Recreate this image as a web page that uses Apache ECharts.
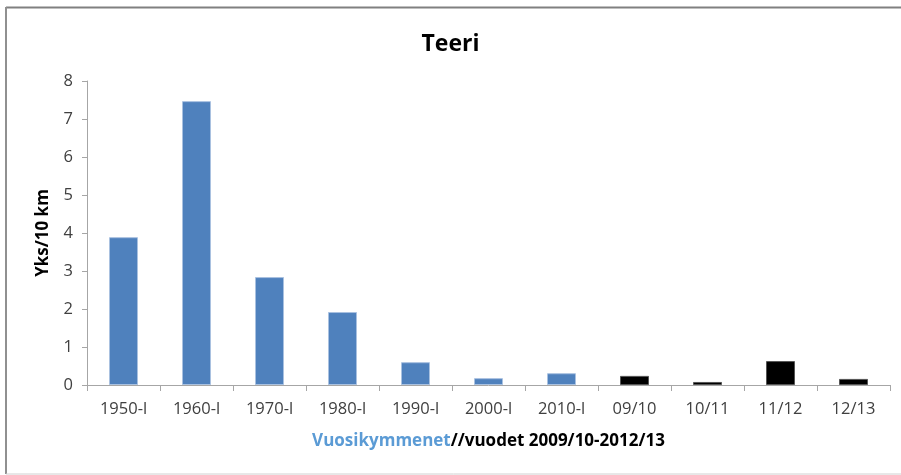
<!DOCTYPE html>
<html>
<head>
<meta charset="utf-8">
<script src="https://cdn.jsdelivr.net/npm/echarts@6/dist/echarts.min.js"></script>
<style>
  html, body { margin: 0; padding: 0; background: #fff; }
  #chart { width: 901px; height: 475px; }
</style>
</head>
<body>
<div id="chart"></div>
<script>
// vuosikymmenet (blue) ja vuodet (black)
var decades = ["1950-l", "1960-l", "1970-l", "1980-l", "1990-l", "2000-l", "2010-l"];
var decadeValues = [3.89, 7.47, 2.84, 1.92, 0.6, 0.18, 0.31];
var seasons = ["09/10", "10/11", "11/12", "12/13"];
var seasonValues = [0.24, 0.08, 0.63, 0.16];
var yTicks = [0, 1, 2, 3, 4, 5, 6, 7, 8];

var categories = decades.concat(seasons);
var barData = decadeValues.map(function (v) {
  return { value: v, itemStyle: { color: "#4f81bd", borderColor: "#a9c1e0", borderWidth: 1 } };
}).concat(seasonValues.map(function (v) {
  return { value: v, itemStyle: { color: "#000", borderColor: "#555", borderWidth: 1 } };
}));

var font = "'Open Sans', 'Liberation Sans', sans-serif";
var chart = echarts.init(document.getElementById("chart"));
chart.setOption({
  animation: false,
  textStyle: { fontFamily: font },
  title: {
    text: "Teeri",
    left: "center",
    top: 28,
    textStyle: { fontSize: 23, fontWeight: "bold", color: "#000", fontFamily: font }
  },
  grid: { left: 87, right: 11, top: 81, bottom: 90, containLabel: false },
  xAxis: {
    type: "category",
    data: categories,
    axisLine: { lineStyle: { color: "#a6a6a6" } },
    axisTick: { show: true, length: 6, lineStyle: { color: "#a6a6a6" } },
    axisLabel: { color: "#404040", fontSize: 16.5, margin: 16, interval: 0 },
    name: "{a|Vuosikymmenet}{b|//vuodet 2009/10-2012/13}",
    nameLocation: "middle",
    nameGap: 48,
    nameTextStyle: {
      rich: {
        a: { color: "#5b9bd5", fontSize: 17, fontWeight: "bold", fontFamily: font },
        b: { color: "#000", fontSize: 17, fontWeight: "bold", fontFamily: font }
      }
    }
  },
  yAxis: {
    type: "value",
    min: yTicks[0],
    max: yTicks[yTicks.length - 1],
    interval: 1,
    name: "Yks/10 km",
    nameLocation: "middle",
    nameGap: 35,
    nameRotate: 90,
    nameTextStyle: { color: "#000", fontSize: 17, fontWeight: "bold", fontFamily: font },
    axisLine: { show: true, lineStyle: { color: "#a6a6a6" } },
    axisTick: { show: true, length: 5, lineStyle: { color: "#a6a6a6" } },
    axisLabel: { color: "#404040", fontSize: 16.5, margin: 14 },
    splitLine: { show: false }
  },
  series: [{
    type: "bar",
    data: barData,
    barWidth: 29
  }],
  graphic: [
    { type: "line", shape: { x1: 6, y1: 7.5, x2: 901, y2: 7.5 }, style: { stroke: "#808080", lineWidth: 2 }, silent: true },
    { type: "line", shape: { x1: 6, y1: 7, x2: 6, y2: 474 }, style: { stroke: "#909090", lineWidth: 2 }, silent: true },
    { type: "line", shape: { x1: 6, y1: 474, x2: 901, y2: 474 }, style: { stroke: "#d0d0d0", lineWidth: 1 }, silent: true }
  ]
});
</script>
</body>
</html>
